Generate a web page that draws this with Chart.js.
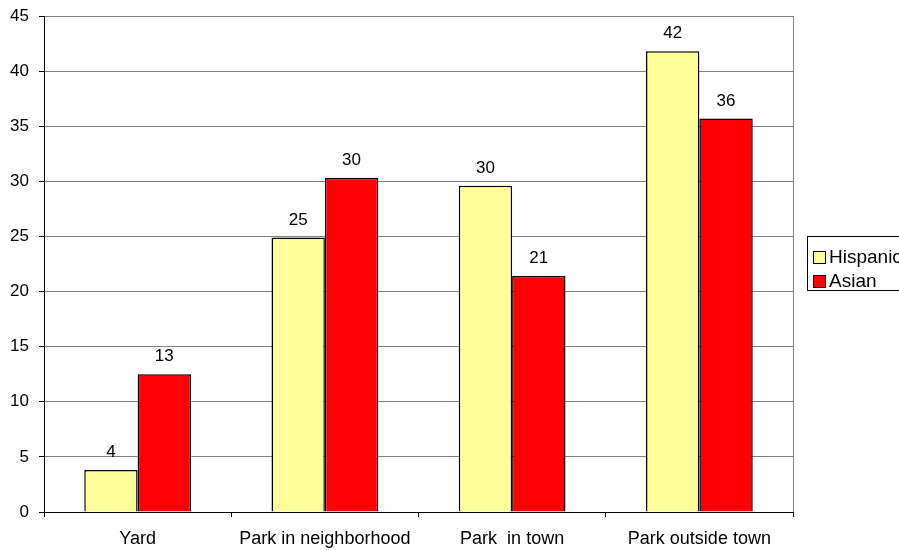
<!DOCTYPE html>
<html>
<head>
<meta charset="utf-8">
<script src="https://cdn.jsdelivr.net/npm/chart.js@4.4.1/dist/chart.umd.min.js"></script>
<style>
  html, body { margin: 0; padding: 0; background: #fff; }
  #wrap { width: 899px; height: 550px; position: relative; }
</style>
</head>
<body>
<div id="wrap"><canvas id="placeChart"></canvas></div>
<script>
const categories = ['Yard', 'Park in neighborhood', 'Park  in town', 'Park outside town'];
const hispanic = [3.8, 24.9, 29.6, 41.8];
const asian = [12.5, 30.3, 21.4, 35.7];
const seriesNames = ['Hispanic', 'Asian'];
const seriesColors = ['#FFFF99', '#FF0000'];

const FONT = '"Liberation Sans", Arial, sans-serif';

// value above each bar, rounded to whole number
const barLabels = {
    id: 'barLabels',
    afterDatasetsDraw(chart) {
        const ctx = chart.ctx;
        ctx.save();
        ctx.font = '17px ' + FONT;
        ctx.fillStyle = '#000';
        ctx.textAlign = 'center';
        ctx.textBaseline = 'alphabetic';
        chart.data.datasets.forEach((ds, i) => {
            chart.getDatasetMeta(i).data.forEach((bar, j) => {
                ctx.fillText(String(Math.round(ds.data[j])), bar.x, bar.y - 13);
            });
        });
        ctx.restore();
    }
};

// right border of the plot + boxed legend on the right
const frameAndLegend = {
    id: 'frameAndLegend',
    afterDraw(chart) {
        const ctx = chart.ctx;
        const a = chart.chartArea;
        ctx.save();
        ctx.strokeStyle = '#808080';
        ctx.lineWidth = 1;
        ctx.beginPath();
        ctx.moveTo(Math.round(a.right) + 0.5, a.top);
        ctx.lineTo(Math.round(a.right) + 0.5, a.bottom);
        ctx.stroke();

        ctx.strokeStyle = '#000';
        ctx.strokeRect(807.5, 236.5, 100, 54);
        ctx.font = '19px ' + FONT;
        ctx.textBaseline = 'alphabetic';
        ctx.textAlign = 'left';
        chart.data.datasets.forEach((ds, i) => {
            const base = 263 + i * 24;
            ctx.fillStyle = ds.backgroundColor;
            ctx.fillRect(813.5, base - 11.5, 12, 12);
            ctx.strokeStyle = '#000';
            ctx.strokeRect(813.5, base - 11.5, 12, 12);
            ctx.fillStyle = '#000';
            ctx.fillText(ds.label, 829, base);
        });
        ctx.restore();
    }
};

new Chart(document.getElementById('placeChart'), {
    type: 'bar',
    data: {
        labels: categories,
        datasets: [
            {
                label: seriesNames[0],
                data: hispanic,
                backgroundColor: seriesColors[0],
                borderColor: '#000',
                borderWidth: 1.5,
                borderSkipped: 'bottom'
            },
            {
                label: seriesNames[1],
                data: asian,
                backgroundColor: seriesColors[1],
                borderColor: '#000',
                borderWidth: 1.5,
                borderSkipped: 'bottom'
            }
        ]
    },
    options: {
        responsive: true,
        maintainAspectRatio: false,
        animation: false,
        datasets: {
            bar: { barPercentage: 1.0, categoryPercentage: 0.57 }
        },
        layout: { padding: { top: 16, right: 106, left: 0, bottom: 0 } },
        plugins: {
            legend: { display: false },
            tooltip: { enabled: false }
        },
        scales: {
            x: {
                afterFit: (s) => { s.height = 38; },
                grid: {
                    drawOnChartArea: false,
                    drawTicks: true,
                    tickLength: 5,
                    color: '#000'
                },
                border: { color: '#000', width: 1 },
                ticks: {
                    color: '#000',
                    font: { family: FONT, size: 18 },
                    padding: 11,
                    maxRotation: 0
                }
            },
            y: {
                min: 0,
                max: 45,
                afterFit: (s) => {
                    s.width = 44;
                    s.paddingTop = 0;
                    s.paddingBottom = 0;
                },
                grid: {
                    color: '#808080',
                    tickColor: '#000',
                    tickLength: 5
                },
                border: { color: '#000', width: 1 },
                ticks: {
                    stepSize: 5,
                    color: '#000',
                    font: { family: FONT, size: 17 },
                    padding: 10
                }
            }
        }
    },
    plugins: [barLabels, frameAndLegend]
});
</script>
</body>
</html>
